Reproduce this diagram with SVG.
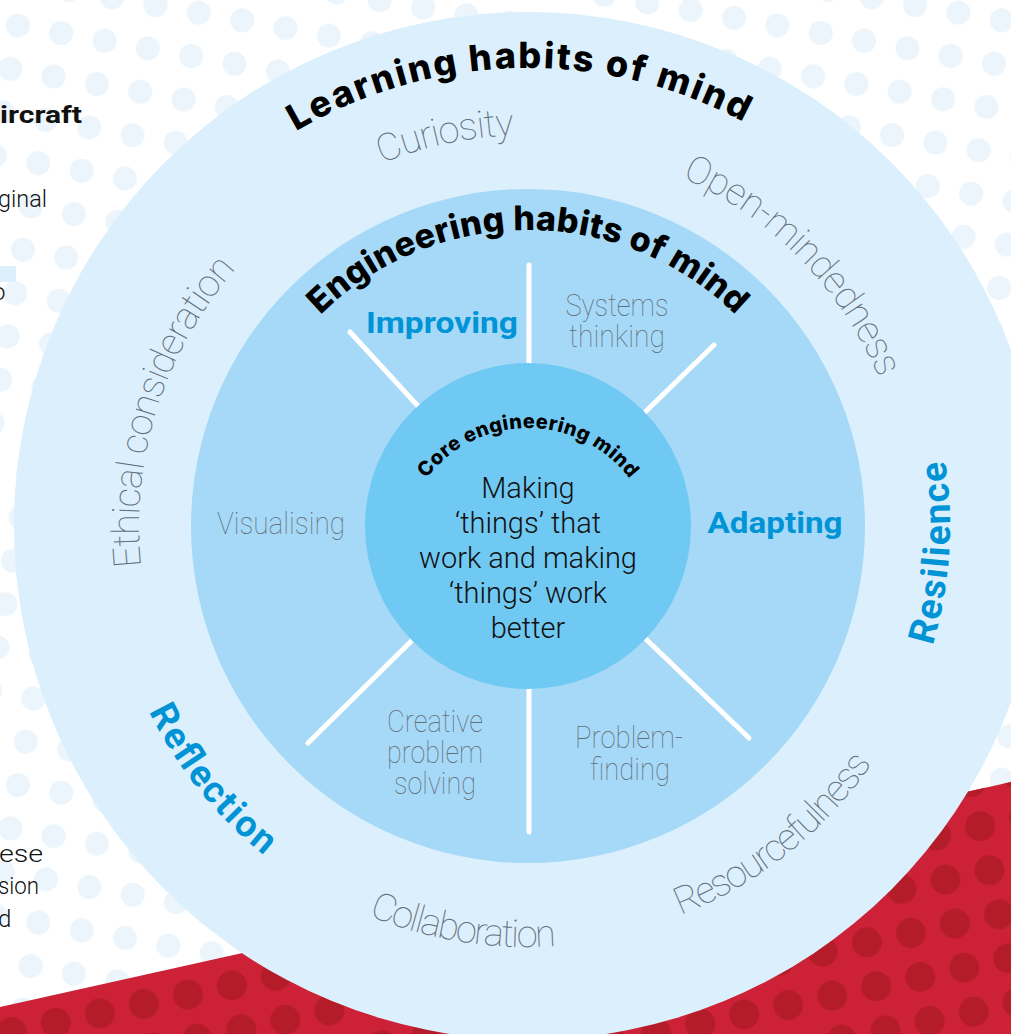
<svg xmlns="http://www.w3.org/2000/svg" xmlns:xlink="http://www.w3.org/1999/xlink" width="1011" height="1034" viewBox="0 0 1011 1034">
<style>
.head{font-family:Inter,Lato,"Noto Sans",sans-serif;font-weight:800;fill:#000;}
.thinO{font-family:Roboto,"Noto Sans",sans-serif;font-weight:100;fill:#626E78;font-size:38px;}
.thinI{font-family:Roboto,"Noto Sans",sans-serif;font-weight:100;fill:#626E78;font-size:31px;text-anchor:middle;}
.blue{font-family:Roboto,"Noto Sans",sans-serif;font-weight:700;fill:#0093D6;}
.core{font-family:Roboto,"Noto Sans",sans-serif;font-weight:300;fill:#111;font-size:29px;text-anchor:middle;}
.side{font-family:Roboto,"Noto Sans",sans-serif;fill:#111;font-size:24px;}
.div{stroke:#fff;stroke-width:5;stroke-linecap:round;fill:none;}
</style>
<defs>
<pattern id="dotsLight" width="44" height="44" patternUnits="userSpaceOnUse" patternTransform="rotate(10)">
<circle cx="22" cy="22" r="12" fill="#ECF5FB"/>
</pattern>
<pattern id="dotsRed" width="45" height="45" patternUnits="userSpaceOnUse" patternTransform="rotate(-12)">
<circle cx="22" cy="22" r="15" fill="#B51C29"/>
</pattern>
<path id="pLearn" d="M76.96,446.47 A458,458 0 0 1 979.04,446.47"/>
<path id="pCur" d="M142.94,458.10 A391,391 0 0 1 913.06,458.10"/>
<path id="pOpen" d="M152.79,459.84 A381,381 0 0 1 903.21,459.84"/>
<path id="pEth" d="M144.91,458.45 A389,389 0 0 1 911.09,458.45"/>
<path id="pEng" d="M236.50,474.60 A296,296 0 0 1 819.50,474.60"/>
<path id="pCore" d="M402.93,532.95 A127,127 0 0 1 653.07,532.95"/>
<path id="pRes" d="M116.35,598.59 A418,418 0 0 0 939.65,598.59"/>
<path id="pCol" d="M113.39,599.11 A421,421 0 0 0 942.61,599.11"/>
<path id="pB" d="M112.41,599.28 A422,422 0 0 0 943.59,599.28"/>
</defs>

<g id="background">
<rect x="0" y="0" width="1011" height="1034" fill="#fff"/>
<rect x="0" y="0" width="1011" height="1034" fill="url(#dotsLight)"/>
<polygon points="0,1007 1011,782 1011,1034 0,1034" fill="#CC2136"/>
<polygon points="0,1007 1011,782 1011,1034 0,1034" fill="url(#dotsRed)"/>
<rect x="0" y="266" width="16" height="16" fill="#DCEFFB"/>
</g>

<g id="side-text">
<text class="side" x="0" y="123" font-weight="700" textLength="82" lengthAdjust="spacingAndGlyphs">ircraft</text>
<text class="side" x="-2" y="207" font-weight="300" textLength="49" lengthAdjust="spacingAndGlyphs">ginal</text>
<text class="side" x="-8" y="300" font-weight="300">o</text>
<text class="side" x="-1" y="862" font-weight="300" textLength="44" lengthAdjust="spacingAndGlyphs">ese</text>
<text class="side" x="-2" y="894" font-weight="300" textLength="41" lengthAdjust="spacingAndGlyphs">sion</text>
<text class="side" x="-2" y="927" font-weight="300">d</text>
</g>

<g id="learning-ring">
<circle cx="528" cy="526" r="514" fill="#DCEFFC"/>
</g>
<g id="engineering-ring">
<circle cx="528" cy="526" r="337" fill="#A6D9F7"/>
</g>

<g id="dividers">
<line class="div" x1="529" y1="265" x2="529" y2="526"/>
<line class="div" x1="529" y1="832" x2="529" y2="526"/>
<line class="div" x1="350" y1="332" x2="528" y2="526"/>
<line class="div" x1="714" y1="345" x2="528" y2="526"/>
<line class="div" x1="308" y1="743" x2="528" y2="526"/>
<line class="div" x1="749" y1="738" x2="528" y2="526"/>
</g>

<g id="core">
<circle cx="528" cy="526" r="163" fill="#70C9F3"/>
<text class="head" font-size="20"><textPath href="#pCore" startOffset="50%" text-anchor="middle" textLength="235">Core engineering mind</textPath></text>
<text class="core" x="528" y="498">Making</text>
<text class="core" x="528" y="533">‘things’ that</text>
<text class="core" x="528" y="568">work and making</text>
<text class="core" x="528" y="603">‘things’ work</text>
<text class="core" x="528" y="638">better</text>
</g>

<g id="title-learning">
<text class="head" font-size="36" transform="rotate(-1.2 528 526)"><textPath href="#pLearn" startOffset="50%" text-anchor="middle" textLength="468">Learning habits of mind</textPath></text>
</g>
<g id="title-engineering">
<text class="head" font-size="34"><textPath href="#pEng" startOffset="50%" text-anchor="middle" textLength="460">Engineering habits of mind</textPath></text>
</g>

<g id="curiosity">
<text class="thinO" transform="rotate(-12 528 526)"><textPath href="#pCur" startOffset="50%" text-anchor="middle" textLength="136">Curiosity</textPath></text>
</g>
<g id="open-mindedness">
<text class="thinO" transform="rotate(45.5 528 526)"><textPath href="#pOpen" startOffset="50%" text-anchor="middle" textLength="288">Open-mindedness</textPath></text>
</g>
<g id="ethical-consideration">
<text class="thinO" transform="rotate(-72.3 528 526)"><textPath href="#pEth" startOffset="50%" text-anchor="middle" textLength="322">Ethical consideration</textPath></text>
</g>
<g id="resourcefulness">
<text class="thinO" transform="rotate(-38.4 528 526)"><textPath href="#pRes" startOffset="50%" text-anchor="middle" textLength="248">Resourcefulness</textPath></text>
</g>
<g id="collaboration">
<text class="thinO" transform="rotate(9.2 528 526)"><textPath href="#pCol" startOffset="50%" text-anchor="middle" textLength="192">Collaboration</textPath></text>
</g>
<g id="reflection">
<text class="blue" font-size="37" transform="rotate(51.3 528 526)"><textPath href="#pB" startOffset="50%" text-anchor="middle" textLength="186">Reflection</textPath></text>
</g>
<g id="resilience">
<text class="blue" font-size="37" transform="rotate(-86.2 528 526)"><textPath href="#pB" startOffset="50%" text-anchor="middle" textLength="187">Resilience</textPath></text>
</g>

<g id="improving">
<text class="blue" font-size="30" x="442" y="333" text-anchor="middle" textLength="152" lengthAdjust="spacingAndGlyphs">Improving</text>
</g>
<g id="adapting">
<text class="blue" font-size="30" x="775" y="533" text-anchor="middle" textLength="135" lengthAdjust="spacingAndGlyphs">Adapting</text>
</g>
<g id="systems-thinking">
<text class="thinI" x="617" y="316" textLength="103" lengthAdjust="spacingAndGlyphs">Systems</text>
<text class="thinI" x="617" y="347" textLength="96" lengthAdjust="spacingAndGlyphs">thinking</text>
</g>
<g id="visualising">
<text class="thinI" x="281" y="534" textLength="128" lengthAdjust="spacingAndGlyphs">Visualising</text>
</g>
<g id="creative-problem-solving">
<text class="thinI" x="435" y="732" textLength="96" lengthAdjust="spacingAndGlyphs">Creative</text>
<text class="thinI" x="435" y="763" textLength="96" lengthAdjust="spacingAndGlyphs">problem</text>
<text class="thinI" x="435" y="794" textLength="82" lengthAdjust="spacingAndGlyphs">solving</text>
</g>
<g id="problem-finding">
<text class="thinI" x="629" y="748" textLength="108" lengthAdjust="spacingAndGlyphs">Problem-</text>
<text class="thinI" x="630" y="780" textLength="80" lengthAdjust="spacingAndGlyphs">finding</text>
</g>
</svg>
